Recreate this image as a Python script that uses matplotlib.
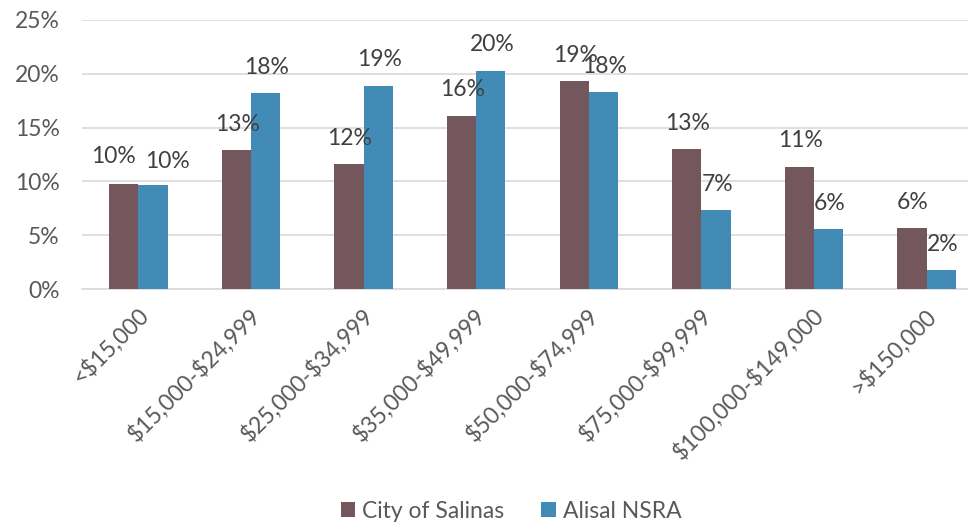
import matplotlib
matplotlib.use("Agg")
import matplotlib.pyplot as plt
import matplotlib.transforms as mtransforms
import numpy as np

categories = ["<$15,000", "$15,000-$24,999", "$25,000-$34,999", "$35,000-$49,999",
              "$50,000-$74,999", "$75,000-$99,999", "$100,000-$149,000", ">$150,000"]
salinas = [9.8, 12.9, 11.6, 16.1, 19.3, 13.0, 11.35, 5.65]
alisal = [9.7, 18.2, 18.9, 20.3, 18.3, 7.3, 5.55, 1.75]
series_names = ["City of Salinas", "Alisal NSRA"]
yticks = [0, 5, 10, 15, 20, 25]

c_sal = "#73575D"
c_ali = "#418BB6"
txt = "#595959"
fs = 16.5

plt.rcParams['font.family'] = ['Lato', 'DejaVu Sans']
plt.rcParams['text.parse_math'] = False

fig = plt.figure(figsize=(9.68, 5.22), dpi=100)
W, H = 968, 522
ax = fig.add_axes([82 / W, (H - 289) / H, 901 / W, 269 / H])

x = np.arange(len(categories))
bw = 0.26
b1 = ax.bar(x - bw / 2, salinas, bw, color=c_sal, label=series_names[0], zorder=3)
b2 = ax.bar(x + bw / 2, alisal, bw, color=c_ali, label=series_names[1], zorder=3)

ax.set_xlim(-0.5, len(categories) - 0.5)
ax.set_ylim(0, 25)
ax.set_yticks(yticks)
ax.set_yticklabels([f"{v}%" for v in yticks])
ax.yaxis.grid(True, color="#D9D9D9", linewidth=1.2, zorder=0)
ax.set_axisbelow(True)
for s in ["top", "right", "left"]:
    ax.spines[s].set_visible(False)
ax.spines["bottom"].set_color("#D9D9D9")
ax.spines["bottom"].set_linewidth(1.2)
ax.tick_params(axis="both", length=0, labelcolor=txt, labelsize=fs)
ax.tick_params(axis="y", pad=16)

ax.set_xticks(x)
ax.set_xticklabels(categories, rotation=45, ha="right", va="top", rotation_mode="anchor")
offset = mtransforms.ScaledTranslation(-2 / 100, -10 / 100, fig.dpi_scale_trans)
for lab in ax.get_xticklabels():
    lab.set_transform(lab.get_transform() + offset)

# data labels
special = {(0, 0): (-10, 27), (0, 1): (15, 23)}
for si, (bars, vals) in enumerate([(b1, salinas), (b2, alisal)]):
    for i, (b, v) in enumerate(zip(bars, vals)):
        dx, dy = special.get((i, si), (1, 26))
        ax.annotate(f"{round(v):.0f}%", (b.get_x() + b.get_width() / 2, v),
                    xytext=(dx * 0.72, dy * 0.72), textcoords="offset points",
                    ha="center", va="center", fontsize=fs, color="#404040", zorder=4)

leg = fig.legend(handles=[b1, b2], labels=series_names, loc="center",
                 bbox_to_anchor=(511 / W, 1 - 511 / H), ncol=2, frameon=False,
                 fontsize=fs, handlelength=0.65, handleheight=0.65,
                 handletextpad=0.3, columnspacing=1.6)
for t in leg.get_texts():
    t.set_color(txt)

fig.savefig("out.png", dpi=100)
